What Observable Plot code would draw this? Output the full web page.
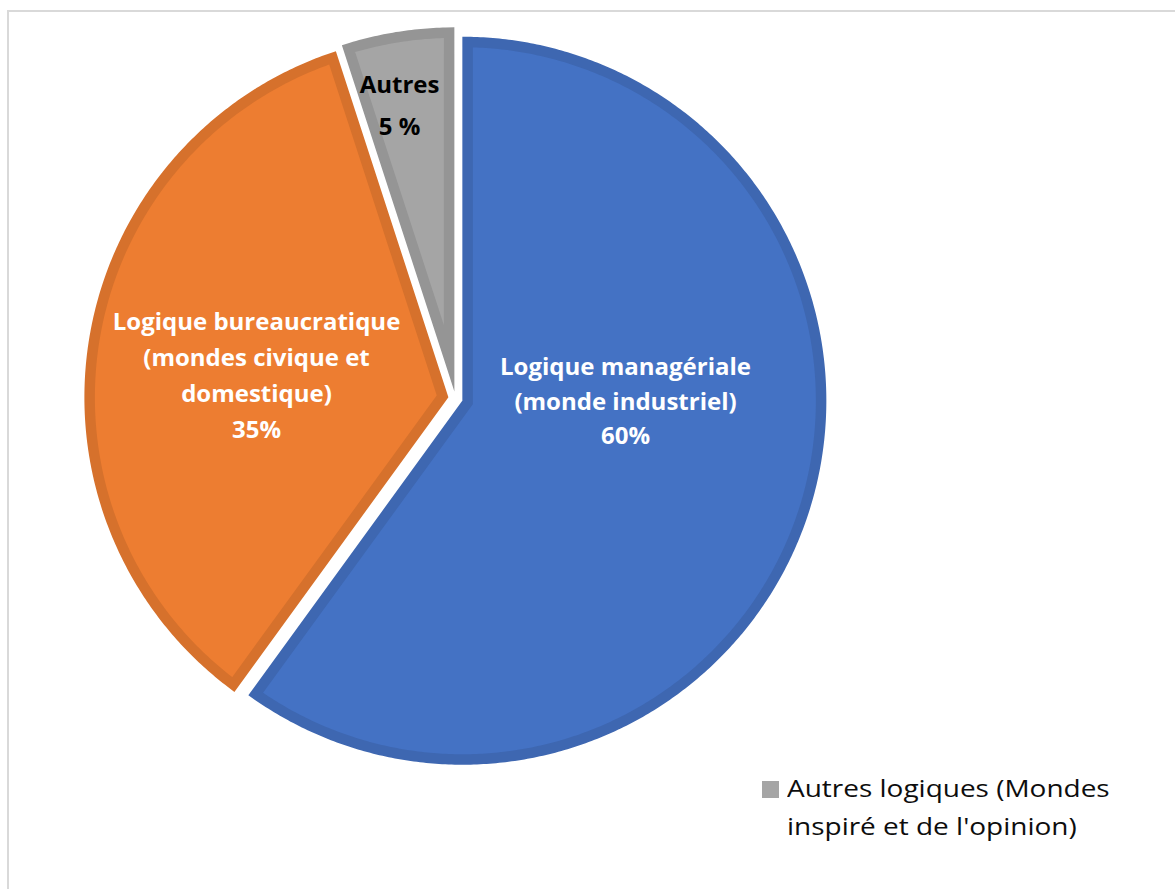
<!DOCTYPE html>
<html>
<head>
<meta charset="utf-8">
<script src="https://cdn.jsdelivr.net/npm/d3@7"></script>
<script src="https://cdn.jsdelivr.net/npm/@observablehq/plot@0.6"></script>
<style>
  html, body { margin: 0; padding: 0; background: #fff; overflow: hidden; }
  #wrap { position: relative; width: 1175px; height: 889px; overflow: hidden; }
  #frame { position: absolute; left: 7px; top: 10px; width: 1200px; height: 900px; border: 2px solid #d9d9d9; box-sizing: border-box; }
  #chart { position: absolute; left: 0; top: 0; }
  #legend { position: absolute; left: 761px; top: 769px; font-family: "Open Sans", Lato, sans-serif; font-size: 24px; line-height: 38px; color: #0d0d0d; }
  #legend .sw { position: absolute; left: 1px; top: 12px; width: 17px; height: 17px; }
  #legend .tx { position: absolute; left: 26px; top: 0; white-space: nowrap; transform: scaleX(1.165); transform-origin: 0 0; }
</style>
</head>
<body>
<div id="wrap">
  <div id="frame"></div>
  <div id="chart"></div>
  <div id="legend"></div>
</div>
<script>
// ---- data ----
const categories = [
  "Logique managériale (monde industriel)",
  "Logique bureaucratique (mondes civique et domestique)",
  "Autres logiques (Mondes inspiré et de l'opinion)"
];
const values = [60, 35, 5];
const labelNames = [
  "Logique managériale\n(monde industriel)",
  "Logique bureaucratique\n(mondes civique et\ndomestique)",
  "Autres"
];
const percentLabels = ["60%", "35%", "5 %"];
const legendItems = ["Autres logiques (Mondes\ninspiré et de l'opinion)"];
const legendIndex = [2];

// ---- styles / layout ----
const fills = ["#4472c4", "#ed7d31", "#a5a5a5"];
const strokes = ["#3e67b1", "#d6712c", "#959595"];
const textColors = ["#ffffff", "#ffffff", "#000000"];
const W = 1175, H = 889;
const CX = 455, CY = 398, R = 364, EXPLODE = 7.2, SW = 10.5;
// label placement: angle offset from slice mid (deg), distance as fraction of radius
const labelLayout = [[-17.9, 0.467], [-1.41, 0.5515], [-1.64, 0.833]];
const labelLineHeight = [1.43, 1.5, 1.77];

// ---- geometry from data (each slice drawn inset by half the border so the border lies inside) ----
const arcs = d3.pie().sort(null).value(d => d)(values);
const polys = [];
const labels = [];
const s = SW / 2;
arcs.forEach((p, i) => {
  const mid = (p.startAngle + p.endAngle) / 2;
  const half = (p.endAngle - p.startAngle) / 2;
  const ox = EXPLODE * Math.sin(mid), oy = EXPLODE * Math.cos(mid);
  const t = s / Math.sin(half);
  polys.push({name: categories[i], i, x: ox + t * Math.sin(mid), y: oy + t * Math.cos(mid)});
  const ri = R - s;
  const delta = Math.asin(s / ri);
  const a0 = p.startAngle + delta, a1 = p.endAngle - delta;
  const n = Math.max(4, Math.ceil((a1 - a0) / (Math.PI / 360)));
  for (let k = 0; k <= n; k++) {
    const a = a0 + (a1 - a0) * k / n;
    polys.push({name: categories[i], i, x: ox + ri * Math.sin(a), y: oy + ri * Math.cos(a)});
  }
  const la = mid + labelLayout[i][0] * Math.PI / 180;
  const lr = labelLayout[i][1] * R;
  labels.push({i, x: lr * Math.sin(la), y: lr * Math.cos(la), text: labelNames[i] + "\n" + percentLabels[i]});
});

const marks = [];
categories.forEach((c, i) => {
  marks.push(Plot.line(polys.filter(d => d.i === i), {
    x: "x", y: "y", z: "name", fill: "name", stroke: strokes[i], strokeWidth: SW,
    curve: "linear-closed", strokeLinejoin: "miter", strokeMiterlimit: 10
  }));
});
categories.forEach((c, i) => {
  marks.push(Plot.text(labels.filter(d => d.i === i), {
    x: "x", y: "y", text: "text", fill: textColors[i], fontSize: 24, fontWeight: "bold",
    fontFamily: "'Open Sans', Lato, sans-serif", lineHeight: labelLineHeight[i], textAnchor: "middle"
  }));
});

const chart = Plot.plot({
  width: W, height: H,
  margin: 0, marginTop: 0, marginRight: 0, marginBottom: 0, marginLeft: 0,
  x: {domain: [-CX, W - CX], range: [0, W], axis: null},
  y: {domain: [CY - H, CY], range: [H, 0], axis: null},
  color: {domain: categories, range: fills},
  style: {background: "transparent", overflow: "visible"},
  marks
});
document.getElementById("chart").appendChild(chart);

// legend
const lg = document.getElementById("legend");
legendItems.forEach((t, k) => {
  const sw = document.createElement("div");
  sw.className = "sw"; sw.style.background = fills[legendIndex[k]];
  const tx = document.createElement("div");
  tx.className = "tx"; tx.innerHTML = t.split("\n").map(s => s.replace(/&/g, "&amp;").replace(/</g, "&lt;")).join("<br>");
  lg.appendChild(sw); lg.appendChild(tx);
});
</script>
</body>
</html>
